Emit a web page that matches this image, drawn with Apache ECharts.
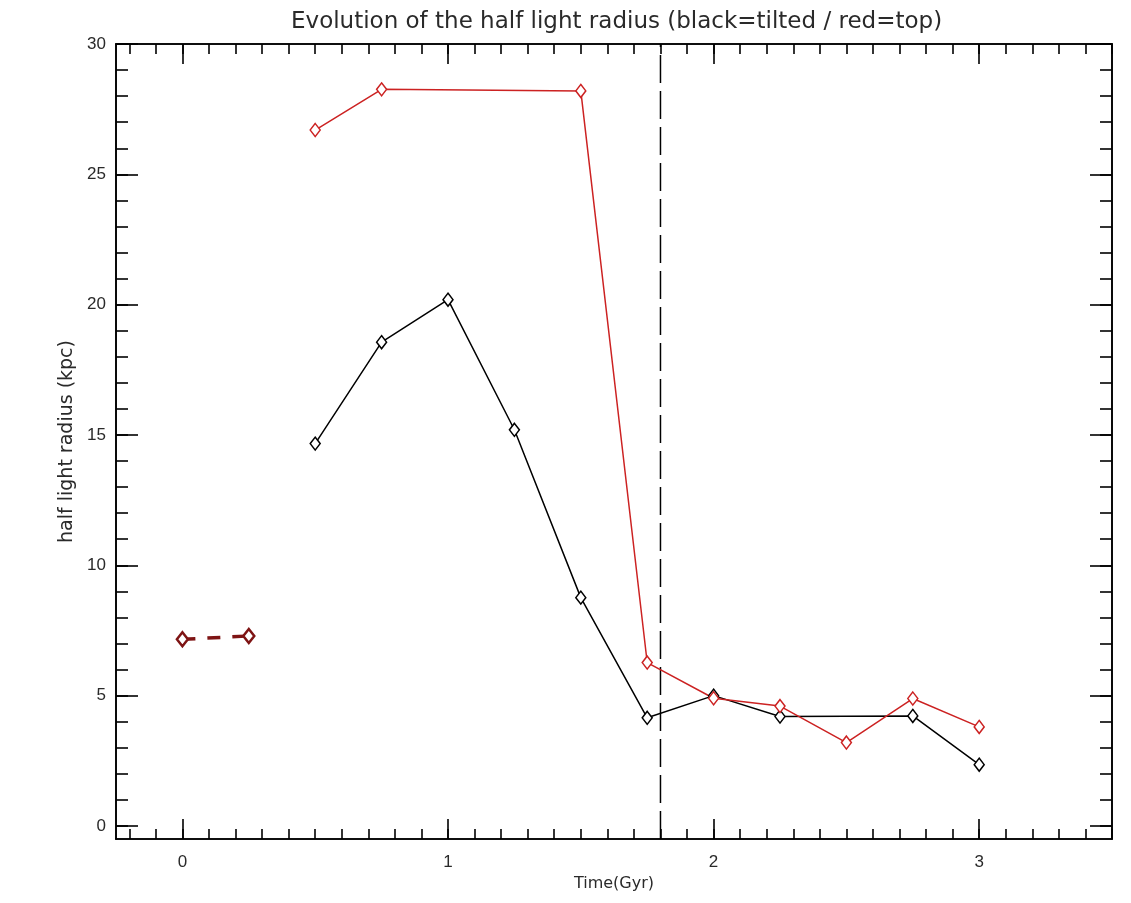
<!DOCTYPE html>
<html>
<head>
<meta charset="utf-8">
<script src="https://cdn.jsdelivr.net/npm/echarts@6/dist/echarts.min.js"></script>
<style>
html,body{margin:0;padding:0;background:#fff;}
#chart{width:1131px;height:903px;}
</style>
</head>
<body>
<div id="chart"></div>
<script>
// ---- data ----
const titleText = 'Evolution of the half light radius (black=tilted / red=top)';
const xName = 'Time(Gyr)';
const yName = 'half light radius (kpc)';

const tiltedTime   = [0.5, 0.75, 1.0, 1.25, 1.5, 1.75, 2.0, 2.25, 2.75, 3.0];
const tiltedRadius = [14.67, 18.56, 20.19, 15.2, 8.76, 4.15, 5.0, 4.2, 4.22, 2.35];

const topTime   = [0.5, 0.75, 1.5, 1.75, 2.0, 2.25, 2.5, 2.75, 3.0];
const topRadius = [26.7, 28.26, 28.2, 6.27, 4.9, 4.6, 3.2, 4.89, 3.8];

const initialTime   = [0.0, 0.25];
const initialRadius = [7.16, 7.29];

const dividerTime = 1.8;
const dividerSpan = [-0.5, 30];

const xRange = [-0.25, 3.5];
const yRange = [-0.5, 30];
const xMajorTicks = [0, 1, 2, 3];
const yMajorTicks = [0, 5, 10, 15, 20, 25, 30];
const xMinorStep = 0.1;
const yMinorStep = 1;

// ---- helpers ----
function stepTicks(lo, hi, step) {
  const out = [];
  const start = Math.ceil(lo / step - 1e-9);
  const end = Math.floor(hi / step + 1e-9);
  for (let i = start; i <= end; i++) out.push(+(i * step).toFixed(6));
  return out;
}
function pairs(xs, ys) { return xs.map((x, i) => [x, ys[i]]); }

const xMinorTicks = stepTicks(xRange[0], xRange[1], xMinorStep);
const yMinorTicks = stepTicks(yRange[0], yRange[1], yMinorStep);

const FONT = '"Liberation Sans", sans-serif';
const WIDE_FONT = '"DejaVu Sans", sans-serif';
const AXIS_COLOR = '#000';
const TEXT_COLOR = '#2a2a2a';

function xAxisDef(pos, ticks, len, withLabels) {
  return {
    type: 'value', position: pos, min: xRange[0], max: xRange[1],
    axisLine: { show: true, onZero: false, lineStyle: { color: AXIS_COLOR, width: 1.6 } },
    axisTick: { show: true, inside: true, length: len, customValues: ticks, lineStyle: { color: AXIS_COLOR, width: 1.6 } },
    axisLabel: withLabels ? { show: true, customValues: xMajorTicks, margin: 15, color: TEXT_COLOR, fontSize: 17, fontFamily: FONT } : { show: false },
    splitLine: { show: false },
    name: withLabels ? xName : '',
    nameLocation: 'middle', nameGap: 36,
    nameTextStyle: { color: TEXT_COLOR, fontSize: 16, fontFamily: WIDE_FONT }
  };
}
function yAxisDef(pos, ticks, len, withLabels) {
  return {
    type: 'value', position: pos, min: yRange[0], max: yRange[1],
    axisLine: { show: true, onZero: false, lineStyle: { color: AXIS_COLOR, width: 1.6 } },
    axisTick: { show: true, inside: true, length: len, customValues: ticks, lineStyle: { color: AXIS_COLOR, width: 1.6 } },
    axisLabel: withLabels ? { show: true, customValues: yMajorTicks, margin: 10, color: TEXT_COLOR, fontSize: 17, fontFamily: FONT } : { show: false },
    splitLine: { show: false },
    name: withLabels ? yName : '',
    nameLocation: 'middle', nameGap: 25, nameRotate: 90,
    nameTextStyle: { color: TEXT_COLOR, fontSize: 19, fontFamily: WIDE_FONT }
  };
}

const chart = echarts.init(document.getElementById('chart'), null, { renderer: 'canvas' });
chart.setOption({
  backgroundColor: '#fff',
  animation: false,
  title: {
    text: titleText, left: 286, top: 6,
    textStyle: { color: TEXT_COLOR, fontSize: 23, fontWeight: 'normal', fontFamily: WIDE_FONT }
  },
  grid: { left: 116, right: 19, top: 44, bottom: 64, containLabel: false },
  xAxis: [
    xAxisDef('bottom', xMajorTicks, 20, true),
    xAxisDef('bottom', xMinorTicks, 10, false),
    xAxisDef('top', xMajorTicks, 20, false),
    xAxisDef('top', xMinorTicks, 10, false)
  ],
  yAxis: [
    yAxisDef('left', yMajorTicks, 22, true),
    yAxisDef('left', yMinorTicks, 12, false),
    yAxisDef('right', yMajorTicks, 22, false),
    yAxisDef('right', yMinorTicks, 12, false)
  ],
  series: [
    {
      name: 'divider', type: 'line', xAxisIndex: 0, yAxisIndex: 0,
      data: dividerSpan.map(v => [dividerTime, v]),
      symbol: 'none', silent: true,
      lineStyle: { color: '#000', width: 1.5, type: [28, 8] }
    },
    {
      name: 'tilted', type: 'line', xAxisIndex: 0, yAxisIndex: 0,
      data: pairs(tiltedTime, tiltedRadius),
      symbol: 'diamond', symbolSize: [10, 13], showSymbol: true,
      itemStyle: { color: '#fff', borderColor: '#000', borderWidth: 1.5 },
      lineStyle: { color: '#000', width: 1.5 }
    },
    {
      name: 'top', type: 'line', xAxisIndex: 0, yAxisIndex: 0,
      data: pairs(topTime, topRadius),
      symbol: 'diamond', symbolSize: [10, 13], showSymbol: true,
      itemStyle: { color: '#fff', borderColor: '#cc2222', borderWidth: 1.5 },
      lineStyle: { color: '#cc2222', width: 1.5 }
    },
    {
      name: 'initial', type: 'line', xAxisIndex: 0, yAxisIndex: 0,
      data: pairs(initialTime, initialRadius),
      symbol: 'diamond', symbolSize: [11, 14], showSymbol: true,
      itemStyle: { color: '#fff', borderColor: '#7e1414', borderWidth: 2.5 },
      lineStyle: { color: '#7e1414', width: 3.5, type: [13, 12] }
    }
  ]
});
</script>
</body>
</html>
